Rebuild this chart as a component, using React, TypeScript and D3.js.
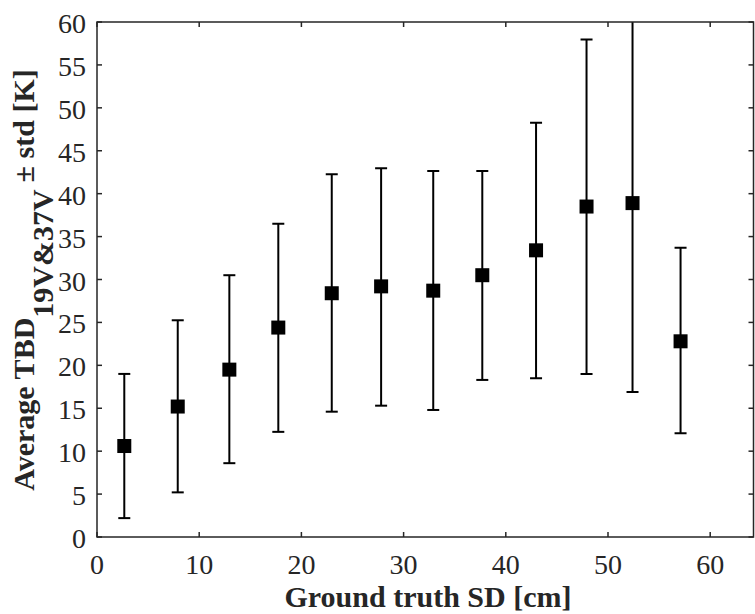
import React from "react";
import * as d3 from "d3";

const sdCenters = [2.67, 7.9, 12.95, 17.74, 22.97, 27.8, 32.9, 37.7, 42.96, 47.9, 52.4, 57.1];
const meanTbd = [10.6, 15.2, 19.5, 24.4, 28.4, 29.2, 28.7, 30.5, 33.4, 38.5, 38.9, 22.8];
const lowTbd = [2.2, 5.2, 8.6, 12.25, 14.6, 15.3, 14.8, 18.3, 18.5, 19.0, 16.9, 12.1];
const highTbd = [19.0, 25.25, 30.5, 36.5, 42.25, 42.95, 42.65, 42.65, 48.25, 57.95, 61, 33.7];
const xTicks = [0, 10, 20, 30, 40, 50, 60];
const yTicks = [0, 5, 10, 15, 20, 25, 30, 35, 40, 45, 50, 55, 60];

const W = 755;
const H = 614;
const left = 97;
const right = 753.5;
const top = 22;
const bottom = 537;
const axisColor = "#262626";
const font = "Liberation Serif, Times New Roman, Times, serif";

export default function App() {
  const x = d3.scaleLinear().domain([0, (right - left) / 10.22]).range([left, right]);
  const y = d3.scaleLinear().domain([0, 60]).range([bottom, top]);
  const tickLen = 5;
  const cap = 6;
  const ms = 14;

  return (
    <svg width={W} height={H} style={{ position: "absolute", left: 0, top: 0, background: "#fff" }}>
      <defs>
        <clipPath id="plotClip">
          <rect x={left} y={top} width={right - left} height={bottom - top} />
        </clipPath>
      </defs>
      <rect x={0} y={0} width={W} height={H} fill="#fff" />

      <g clipPath="url(#plotClip)" stroke="#000" strokeWidth={2} fill="#000">
        {sdCenters.map((d, i) => {
          const cx = x(d);
          return (
            <g key={i}>
              <line x1={cx} x2={cx} y1={y(lowTbd[i])} y2={y(highTbd[i])} />
              <line x1={cx - cap} x2={cx + cap} y1={y(lowTbd[i])} y2={y(lowTbd[i])} />
              <line x1={cx - cap} x2={cx + cap} y1={y(highTbd[i])} y2={y(highTbd[i])} />
              <rect x={cx - ms / 2} y={y(meanTbd[i]) - ms / 2} width={ms} height={ms} stroke="none" />
            </g>
          );
        })}
      </g>

      <g stroke={axisColor} strokeWidth={1.5} fill="none">
        <rect x={left} y={top} width={right - left} height={bottom - top} />
        {xTicks.map((t) => (
          <g key={"xt" + t}>
            <line x1={x(t)} x2={x(t)} y1={bottom} y2={bottom - tickLen} />
            <line x1={x(t)} x2={x(t)} y1={top} y2={top + tickLen} />
          </g>
        ))}
        {yTicks.map((t) => (
          <g key={"yt" + t}>
            <line x1={left} x2={left + tickLen} y1={y(t)} y2={y(t)} />
            <line x1={right} x2={right - tickLen} y1={y(t)} y2={y(t)} />
          </g>
        ))}
      </g>

      <g fill={axisColor} fontFamily={font} fontSize={28}>
        {xTicks.map((t) => (
          <text key={"xl" + t} x={x(t)} y={574} textAnchor="middle">
            {t}
          </text>
        ))}
        {yTicks.map((t) => (
          <text key={"yl" + t} x={86} y={y(t) + 11} textAnchor="end">
            {t}
          </text>
        ))}
      </g>

      <text x={428} y={607} textAnchor="middle" fontFamily={font} fontWeight="bold" fontSize={30} fill={axisColor}>
        Ground truth SD [cm]
      </text>

      <text
        transform={`translate(${34},${280}) rotate(-90)`}
        textAnchor="middle"
        fontFamily={font}
        fontWeight="bold"
        fontSize={30}
        fill={axisColor}
      >
        Average TBD
        <tspan dy={19}>19V&amp;37V</tspan>
        <tspan dy={-19}> ± std [K]</tspan>
      </text>
    </svg>
  );
}
